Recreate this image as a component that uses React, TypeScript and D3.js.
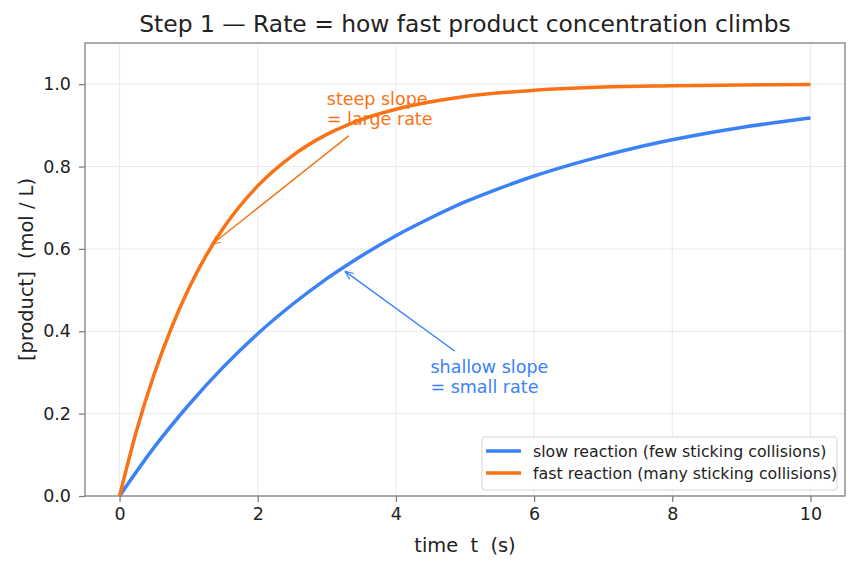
import React, { useEffect, useRef } from 'react'
import * as d3 from 'd3'

// values
const slowTimes = [0, 0.5, 1, 1.5, 2, 2.5, 3, 3.5, 4, 4.5, 5, 5.5, 6, 6.5, 7, 7.5, 8, 8.5, 9, 9.5, 10]
const slowValues = [0, 0.118, 0.221, 0.313, 0.394, 0.465, 0.528, 0.583, 0.632, 0.675, 0.714, 0.747, 0.777, 0.803, 0.826, 0.847, 0.865, 0.881, 0.895, 0.907, 0.918]
const fastTimes = [0, 0.25, 0.5, 0.75, 1, 1.25, 1.5, 2, 2.5, 3, 3.5, 4, 5, 6, 7, 8, 9, 10]
const fastValues = [0, 0.161, 0.295, 0.408, 0.503, 0.583, 0.650, 0.753, 0.826, 0.878, 0.914, 0.939, 0.970, 0.985, 0.993, 0.996, 0.998, 0.999]
const xTicks = [0, 2, 4, 6, 8, 10]
const yTicks = [0, 0.2, 0.4, 0.6, 0.8, 1.0]
const seriesLabels = ['slow reaction (few sticking collisions)', 'fast reaction (many sticking collisions)']

const BLUE = '#3b82f6'
const ORANGE = '#f97316'
const FONT = 'DejaVu Sans, sans-serif'
const TEXT = '#222'

const W = 858
const H = 569
const margin = { top: 43, right: 13, bottom: 73, left: 85 }

export default function App() {
  const ref = useRef<SVGSVGElement>(null)

  useEffect(() => {
    const svg = d3.select(ref.current)
    svg.selectAll('*').remove()

    const width = W - margin.left - margin.right
    const height = H - margin.top - margin.bottom

    const x = d3.scaleLinear().domain([-0.5, 10.5]).range([0, width])
    const y = d3.scaleLinear().domain([0, 1.1]).range([height, 0])

    svg.append('rect').attr('width', W).attr('height', H).attr('fill', '#fff')

    const g = svg.append('g').attr('transform', `translate(${margin.left},${margin.top})`)

    // grid
    g.append('g').selectAll('line').data(xTicks).enter().append('line')
      .attr('x1', d => x(d)).attr('x2', d => x(d)).attr('y1', 0).attr('y2', height)
      .attr('stroke', '#e3e5e8').attr('stroke-width', 0.8)
    g.append('g').selectAll('line').data(yTicks).enter().append('line')
      .attr('y1', d => y(d)).attr('y2', d => y(d)).attr('x1', 0).attr('x2', width)
      .attr('stroke', '#e3e5e8').attr('stroke-width', 0.8)

    // axes
    g.append('g')
      .attr('transform', `translate(0,${height})`)
      .call(d3.axisBottom(x).tickValues(xTicks).tickFormat(d3.format('d')).tickSize(6).tickPadding(6))
      .call(a => {
        a.select('.domain').remove()
        a.selectAll('.tick line').attr('stroke', '#777').attr('stroke-width', 1.2)
        a.selectAll('.tick text').attr('font-family', FONT).attr('font-size', 17.5).attr('fill', TEXT)
      })
    g.append('g')
      .call(d3.axisLeft(y).tickValues(yTicks).tickFormat(d3.format('.1f')).tickSize(6).tickPadding(8))
      .call(a => {
        a.select('.domain').remove()
        a.selectAll('.tick line').attr('stroke', '#777').attr('stroke-width', 1.2)
        a.selectAll('.tick text').attr('font-family', FONT).attr('font-size', 17.5).attr('fill', TEXT)
      })

    // frame
    g.append('rect').attr('width', width).attr('height', height)
      .attr('fill', 'none').attr('stroke', '#808080').attr('stroke-width', 1.3)

    const line = d3.line<[number, number]>()
      .x(d => x(d[0])).y(d => y(d[1]))
      .curve(d3.curveMonotoneX)

    g.append('path').datum(slowTimes.map((t, i) => [t, slowValues[i]] as [number, number]))
      .attr('d', line).attr('fill', 'none').attr('stroke', BLUE).attr('stroke-width', 3.5)
    g.append('path').datum(fastTimes.map((t, i) => [t, fastValues[i]] as [number, number]))
      .attr('d', line).attr('fill', 'none').attr('stroke', ORANGE).attr('stroke-width', 3.5)

    // arrow markers
    const defs = svg.append('defs')
    ;[['arrowO', ORANGE], ['arrowB', BLUE]].forEach(([id, c]) => {
      defs.append('marker').attr('id', id)
        .attr('viewBox', '0 -5 10 10').attr('refX', 10).attr('refY', 0)
        .attr('markerWidth', 9).attr('markerHeight', 9).attr('markerUnits', 'userSpaceOnUse')
        .attr('orient', 'auto')
        .append('path').attr('d', 'M0,-4L10,0L0,4').attr('fill', 'none').attr('stroke', c).attr('stroke-width', 1.3)
    })

    // annotations
    g.append('line')
      .attr('x1', x(3.32)).attr('y1', y(0.875)).attr('x2', x(1.33)).attr('y2', y(0.61))
      .attr('stroke', ORANGE).attr('stroke-width', 1.4).attr('marker-end', 'url(#arrowO)')
    const t1 = g.append('text').attr('font-family', FONT).attr('font-size', 17.5).attr('fill', ORANGE)
    t1.append('tspan').attr('x', x(3.0)).attr('y', y(0.9) - 20.5).text('steep slope')
    t1.append('tspan').attr('x', x(3.0)).attr('y', y(0.9)).text('= large rate')

    g.append('line')
      .attr('x1', x(4.85)).attr('y1', y(0.352)).attr('x2', x(3.26)).attr('y2', y(0.546))
      .attr('stroke', BLUE).attr('stroke-width', 1.4).attr('marker-end', 'url(#arrowB)')
    const t2 = g.append('text').attr('font-family', FONT).attr('font-size', 17.5).attr('fill', BLUE)
    t2.append('tspan').attr('x', x(4.5)).attr('y', y(0.25) - 20.5).text('shallow slope')
    t2.append('tspan').attr('x', x(4.5)).attr('y', y(0.25)).text('= small rate')

    // legend
    const lg = g.append('g').attr('transform', `translate(${width - 363},${height - 59})`)
    lg.append('rect').attr('width', 355).attr('height', 53).attr('rx', 3)
      .attr('fill', 'rgba(255,255,255,0.85)').attr('stroke', '#d6d6d6').attr('stroke-width', 1)
    const colors = [BLUE, ORANGE]
    seriesLabels.forEach((label, i) => {
      const yy = 14 + i * 22
      lg.append('line').attr('x1', 4).attr('x2', 39).attr('y1', yy).attr('y2', yy)
        .attr('stroke', colors[i]).attr('stroke-width', 3.5)
      lg.append('text').attr('x', 51).attr('y', yy + 5.5)
        .attr('font-family', FONT).attr('font-size', 15.8).attr('fill', TEXT).text(label)
    })

    // labels
    svg.append('text').attr('x', margin.left + width / 2).attr('y', 31.5)
      .attr('text-anchor', 'middle').attr('font-family', FONT).attr('font-size', 23.4).attr('fill', TEXT)
      .text('Step 1 — Rate = how fast product concentration climbs')
    svg.append('text').attr('x', margin.left + width / 2).attr('y', 552)
      .attr('text-anchor', 'middle').attr('font-family', FONT).attr('font-size', 19.4).attr('fill', TEXT)
      .style('white-space', 'pre')
      .text('time  t  (s)')
    svg.append('text')
      .attr('transform', `translate(33,${margin.top + height / 2}) rotate(-90)`)
      .attr('text-anchor', 'middle').attr('font-family', FONT).attr('font-size', 19.4).attr('fill', TEXT)
      .style('white-space', 'pre')
      .text('[product]  (mol / L)')
  }, [])

  return <svg ref={ref} width={W} height={H} style={{ display: 'block', margin: -8 }} />
}
